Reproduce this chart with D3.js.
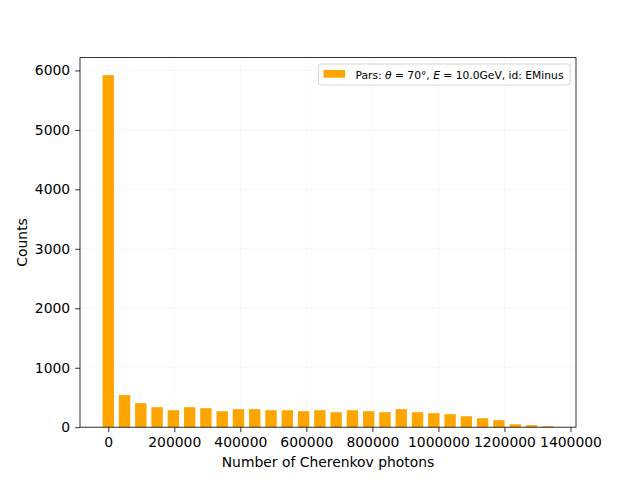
<!DOCTYPE html>
<meta charset="utf-8">
<style>
body { margin: 0; background: #fff; }
text { font-family: "DejaVu Sans", sans-serif; fill: #000; }
.grid line { stroke: #b0b0b0; stroke-opacity: 0.12; stroke-width: 0.8px; }
.axis path, .axis line { stroke: #000; stroke-width: 0.8px; }
.axis text { font-size: 13.9px; }
</style>
<body>
<script src="https://d3js.org/d3.v7.min.js"></script>
<script>
// bin centres (number of photons) and counts
var binCenters = [0, 49300, 98600, 147900, 197200, 246500, 295800, 345100, 394400, 443700,
                  493000, 542300, 591600, 640900, 690200, 739500, 788800, 838100, 887400, 936700,
                  986000, 1035300, 1084600, 1133900, 1183200, 1232500, 1281800, 1331100];
var counts = [5920, 540, 404, 337, 286, 337, 320, 269, 303, 303,
              286, 286, 269, 286, 252, 286, 269, 252, 303, 252,
              236, 219, 185, 151, 118, 50, 34, 17];
var binWidth = 49300;
var rwidth = 0.7;
var xTicks = [0, 200000, 400000, 600000, 800000, 1000000, 1200000, 1400000];
var yTicks = [0, 1000, 2000, 3000, 4000, 5000, 6000];
var legendLabel = ["Pars: ", "θ", " = 70°, ", "E", " = 10.0GeV, id: EMinus"];

var W = 640, H = 480,
    margin = {top: 57.6, right: 64, bottom: 52.8, left: 80},
    width = W - margin.left - margin.right,
    height = H - margin.top - margin.bottom;

var svg = d3.select("body").append("svg")
    .attr("width", W)
    .attr("height", H);

var g = svg.append("g")
    .attr("transform", "translate(" + margin.left + "," + margin.top + ")");

var lo = d3.min(binCenters) - binWidth * rwidth / 2,
    hi = d3.max(binCenters) + binWidth * rwidth / 2,
    pad = (hi - lo) * 0.05;

var x = d3.scaleLinear().domain([lo - pad, hi + pad]).range([0, width]);
var y = d3.scaleLinear().domain([0, d3.max(counts) * 1.05]).range([height, 0]);

// grid
g.append("g").attr("class", "grid")
  .selectAll("line").data(xTicks).enter().append("line")
    .attr("x1", function(d) { return x(d); })
    .attr("x2", function(d) { return x(d); })
    .attr("y1", 0).attr("y2", height);
g.append("g").attr("class", "grid")
  .selectAll("line").data(yTicks).enter().append("line")
    .attr("y1", function(d) { return y(d); })
    .attr("y2", function(d) { return y(d); })
    .attr("x1", 0).attr("x2", width);

// bars
g.selectAll(".bar")
    .data(counts)
  .enter().append("rect")
    .attr("class", "bar")
    .attr("x", function(d, i) { return x(binCenters[i] - binWidth * rwidth / 2); })
    .attr("width", function() { return x(binWidth * rwidth) - x(0); })
    .attr("y", function(d) { return y(d); })
    .attr("height", function(d) { return height - y(d); })
    .attr("fill", "#ffa500");

// axes
g.append("g")
    .attr("class", "axis")
    .attr("transform", "translate(0," + height + ")")
    .call(d3.axisBottom(x).tickValues(xTicks).tickFormat(d3.format("d")).tickSize(4.9).tickPadding(4.9))
    .call(function(a) { a.select(".domain").remove(); });
g.append("g")
    .attr("class", "axis")
    .call(d3.axisLeft(y).tickValues(yTicks).tickFormat(d3.format("d")).tickSize(4.9).tickPadding(4.9))
    .call(function(a) { a.select(".domain").remove(); });

g.append("rect")
    .attr("width", width)
    .attr("height", height)
    .attr("fill", "none")
    .attr("stroke", "#000")
    .attr("stroke-width", 0.8);

// labels
svg.append("text")
    .attr("x", margin.left + width / 2)
    .attr("y", 467)
    .attr("text-anchor", "middle")
    .style("font-size", "13.9px")
    .text("Number of Cherenkov photons");
svg.append("text")
    .attr("transform", "translate(26.5," + (margin.top + height / 2) + ") rotate(-90)")
    .attr("text-anchor", "middle")
    .style("font-size", "13.9px")
    .text("Counts");

// legend
var leg = svg.append("g");
leg.append("rect")
    .attr("x", 318.5).attr("y", 64)
    .attr("width", 251.5).attr("height", 21)
    .attr("rx", 2.5)
    .attr("fill", "#fff").attr("fill-opacity", 0.8)
    .attr("stroke", "#cccccc").attr("stroke-width", 0.8);
leg.append("rect")
    .attr("x", 323.5).attr("y", 70)
    .attr("width", 21.5).attr("height", 7.7)
    .attr("fill", "#ffa500");
var lt = leg.append("text")
    .attr("x", 355.5).attr("y", 78.5)
    .attr("textLength", 208)
    .attr("lengthAdjust", "spacingAndGlyphs")
    .style("font-size", "11.1px");
lt.selectAll("tspan").data(legendLabel).enter().append("tspan")
    .style("font-style", function(d, i) { return i % 2 ? "italic" : "normal"; })
    .text(function(d) { return d; });
</script>
